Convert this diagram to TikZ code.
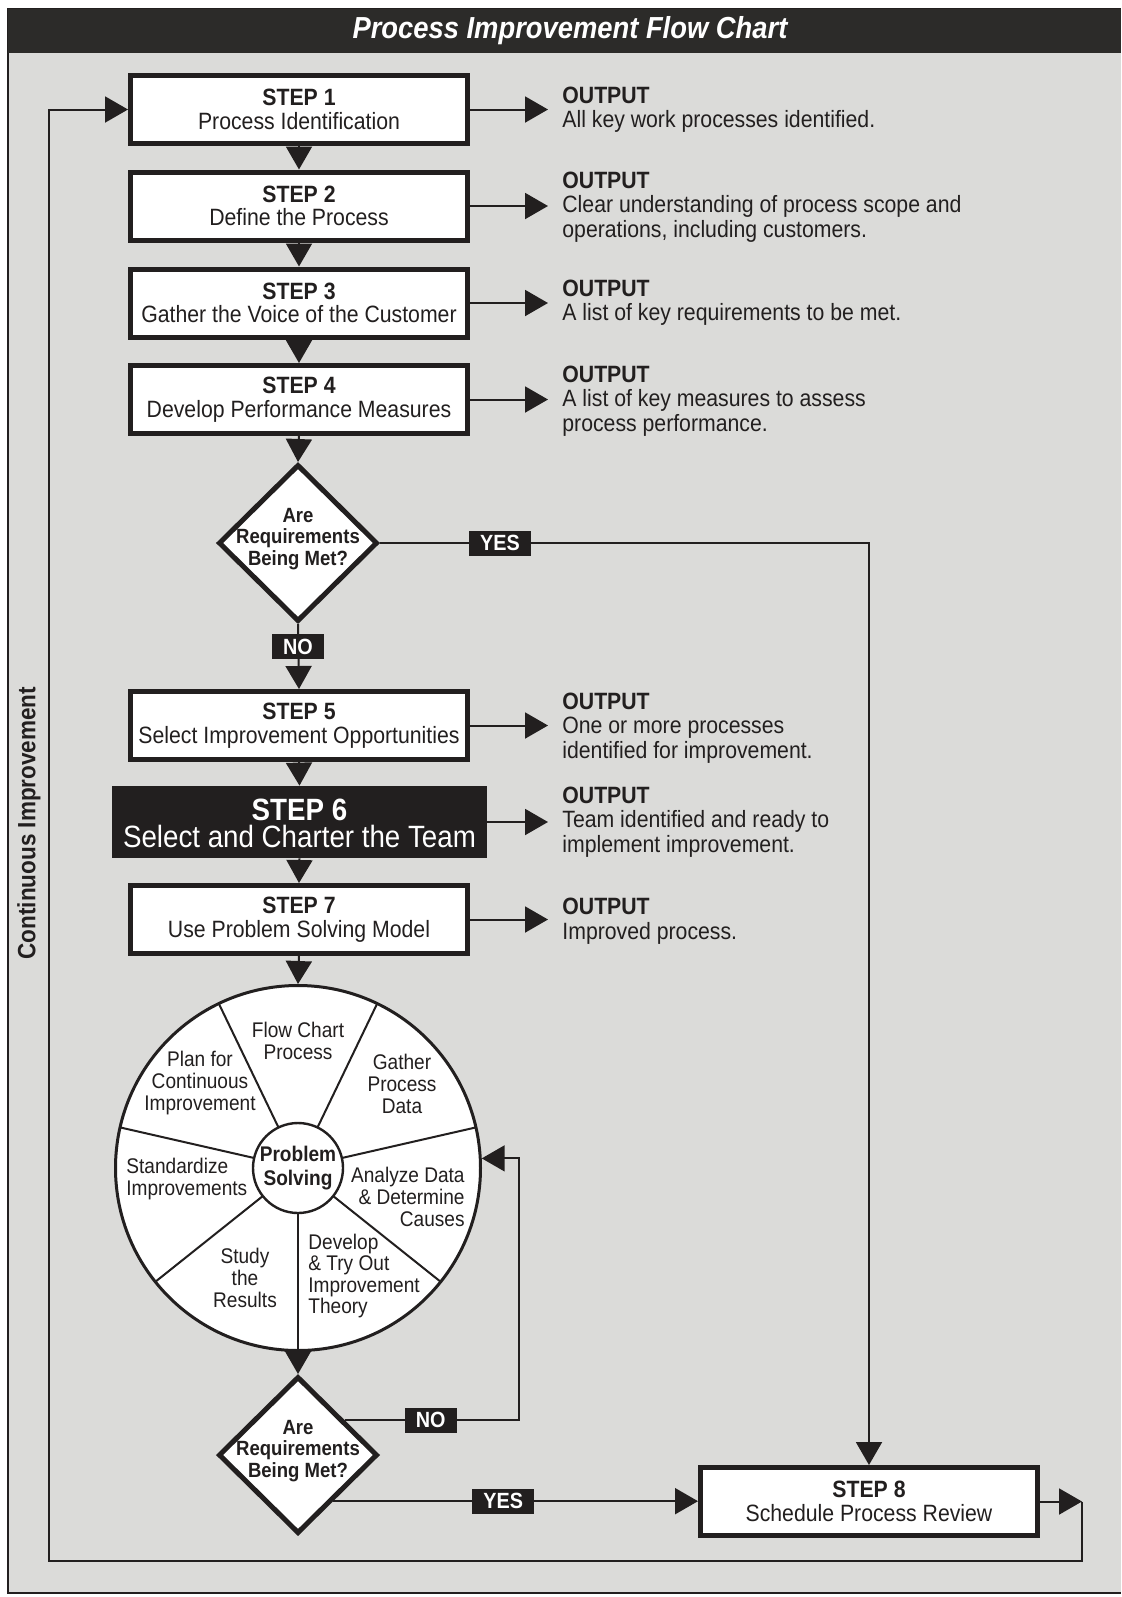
\documentclass[tikz,border=0pt]{standalone}
\usepackage{fontspec}
\setmainfont{Liberation Sans}[FakeStretch=0.9]
\usetikzlibrary{arrows.meta,shapes.geometric,calc}

\definecolor{ink}{HTML}{221F1F}
\definecolor{paper}{HTML}{DBDBD9}
\definecolor{bar}{HTML}{2C2B29}

\begin{document}
\begin{tikzpicture}[x=0.5pt,y=-0.5pt,
  tip/.style={-{Triangle[length=11.5pt,width=13pt]}},
  conn/.style={draw=ink,line width=1pt,tip},
  stepbox/.style={draw=ink,line width=2.5pt,fill=white,minimum width=168.5pt,
    minimum height=34pt,inner sep=0pt,align=center,text=ink,
    font=\fontsize{11.8}{11.7}\selectfont},
  darkbox/.style={fill=ink,minimum width=187.5pt,minimum height=36pt,inner sep=0pt,
    text=white},
  darkline/.style={inner sep=0pt,text=white,font=\fontsize{15.4}{15}\selectfont},
  decision/.style={diamond,draw=ink,line width=2.5pt,fill=white,minimum width=79.5pt,
    minimum height=78.5pt,inner sep=0pt},
  dtext/.style={inner sep=0pt,align=center,text=ink,
    font=\bfseries\fontsize{10.3}{10.9}\selectfont},
  outtext/.style={anchor=west,align=left,inner xsep=7pt,inner ysep=0pt,text=ink,
    font=\fontsize{11.8}{12.2}\selectfont},
  tag/.style={fill=ink,text=white,inner xsep=5.5pt,inner ysep=0pt,minimum height=12.5pt,
    font=\bfseries\fontsize{11}{11}\selectfont},
  wheeltext/.style={inner sep=0pt,text=ink,font=\fontsize{10.6}{10.8}\selectfont},
  spoke/.style={draw=ink,line width=1pt},
]
\useasboundingbox (0,0) rectangle (1121,1597);

% sheet, frame and heading bar
\fill[paper] (8,9) rectangle (1121,1593);
\draw[ink,line width=1pt] (1121,9) -- (8,9) -- (8,1593) -- (1121,1593);
\fill[bar] (8,9) rectangle (1121,53);
\node[text=white,font=\bfseries\itshape\fontsize{15.2}{15}\selectfont] (title) at (570,31)
  {Process Improvement Flow Chart};

% main column of steps
\node[stepbox] (s1) at (299,109.5) {{\bfseries STEP 1}\\Process Identification};
\node[stepbox] (s2) at (299,206) {{\bfseries STEP 2}\\Define the Process};
\node[stepbox] (s3) at (299,303) {{\bfseries STEP 3}\\Gather the Voice of the Customer};
\node[stepbox] (s4) at (299,399.5) {{\bfseries STEP 4}\\Develop Performance Measures};
\node[decision] (d1) at (298,543) {};
\node[dtext] (d1t) at (298,539) {Are\\Requirements\\Being Met?};
\node[stepbox] (s5) at (299,725.5) {{\bfseries STEP 5}\\Select Improvement Opportunities};
\node[darkbox] (s6) at (299.5,822) {};
\node[darkline,anchor=base,font=\bfseries\fontsize{15.4}{15}\selectfont] (s6a) at (299.5,820) {STEP 6};
\node[darkline,anchor=base] (s6b) at (299.5,847) {Select and Charter the Team};
\node[stepbox] (s7) at (299,919.5) {{\bfseries STEP 7}\\Use Problem Solving Model};

% problem solving wheel
\node[circle,draw=ink,line width=1.5pt,fill=white,minimum size=182.5pt,inner sep=0pt]
  (wheel) at (298,1168) {};
\foreach \k in {0,...,6}
  \draw[spoke] ($(wheel.center)+({-90+\k*51.4286}:22.5pt)$)
            -- ($(wheel.center)+({-90+\k*51.4286}:91pt)$);
\node[circle,draw=ink,line width=1.2pt,fill=white,minimum size=45pt,inner sep=0pt,
  align=center,text=ink,font=\bfseries\fontsize{10.6}{11.8}\selectfont]
  (hub) at (298,1168) {Problem\\Solving};
\node[wheeltext,align=center] (w1) at (298,1041) {Flow Chart\\Process};
\node[wheeltext,align=center] (w2) at (402,1084) {Gather\\Process\\Data};
\node[wheeltext,align=right,anchor=east] (w3) at (465,1197) {Analyze Data\\\& Determine\\Causes};
\node[wheeltext,align=left,anchor=west] (w4) at (308,1276) {Develop\\\& Try Out\\Improvement\\Theory};
\node[wheeltext,align=center] (w5) at (245,1278) {Study\\the\\Results};
\node[wheeltext,align=left,anchor=west] (w6) at (126,1179) {Standardize\\Improvements};
\node[wheeltext,align=center] (w7) at (200,1083) {Plan for\\Continuous\\Improvement};

\node[decision] (d2) at (298,1455) {};
\node[dtext] (d2t) at (298,1451) {Are\\Requirements\\Being Met?};
\node[stepbox] (s8) at (869,1501.5) {{\bfseries STEP 8}\\Schedule Process Review};

% outputs
\node[outtext] (o1) at (548,109.5) {{\bfseries OUTPUT}\\All key work processes identified.};
\node[outtext] (o2) at (548,207) {{\bfseries OUTPUT}\\Clear understanding of process scope and\\operations, including customers.};
\node[outtext] (o3) at (548,303) {{\bfseries OUTPUT}\\A list of key requirements to be met.};
\node[outtext] (o4) at (548,401) {{\bfseries OUTPUT}\\A list of key measures to assess\\process performance.};
\node[outtext] (o5) at (548,728) {{\bfseries OUTPUT}\\One or more processes\\identified for improvement.};
\node[outtext] (o6) at (548,822) {{\bfseries OUTPUT}\\Team identified and ready to\\implement improvement.};
\node[outtext] (o7) at (548,921) {{\bfseries OUTPUT}\\Improved process.};

% flow down the column
\draw[conn] (s1.south) -- (s2.north);
\draw[conn] (s2.south) -- (s3.north);
\draw[conn] (s3.south) -- (s4.north);
\draw[conn] (s4.south) -- (d1.north);
\draw[conn] (d1.south) -- (s5.north);
\draw[conn] (s5.south) -- (s6.north);
\draw[conn] (s6.south) -- (s7.north);
\draw[conn] (s7.south) -- (wheel.north);
\draw[conn] (wheel.south) -- (d2.north);

% step outputs
\foreach \i in {1,...,7} \draw[conn] (s\i.east) -- (o\i.west |- s\i.east);

% decision branches
\draw[conn] (d1.east) -| (s8.north);
\node[tag] (yes1) at (500,543) {YES};
\node[tag] (no1) at (298,646.5) {NO};

\coordinate (pno) at ($(d2.north)!0.57!(d2.east)$);
\coordinate (nocol) at (519,0);
\draw[conn] (pno) -- (pno -| nocol) |- (wheel.3);
\node[tag] (no2) at ($(pno)+(86,0)$) {NO};

\coordinate (pyes) at ($(d2.east)!0.57!(d2.south)$);
\draw[conn] (pyes) -- (pyes -| s8.west);
\node[tag] (yes2) at ($(pyes)+(170,0)$) {YES};

% continuous improvement loop
\coordinate (rt) at ($(s8.east)+(42,0)$);
\coordinate (lb) at (49,1561);
\draw[conn] (s8.east) -- (rt);
\draw[conn] (rt) |- (lb) |- (s1.west);
\node[rotate=90,text=ink,font=\bfseries\fontsize{12.5}{12.5}\selectfont] (ci) at (29,823)
  {Continuous Improvement};
\end{tikzpicture}
\end{document}
